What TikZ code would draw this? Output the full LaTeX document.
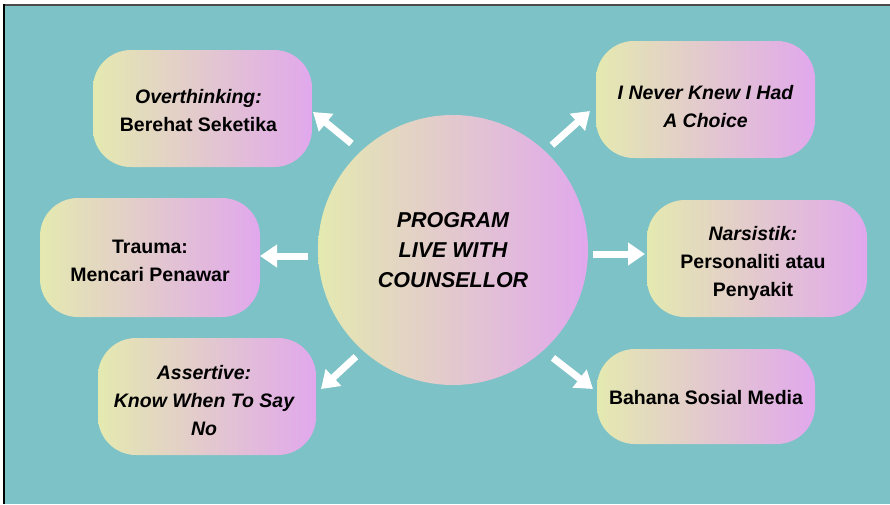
\documentclass[tikz,border=0pt]{standalone}
\usepackage{fontspec}
\setmainfont{Liberation Sans}
\usetikzlibrary{arrows.meta}
\definecolor{bg}{HTML}{7CC2C6}
\definecolor{gl}{HTML}{E4E9B0}
\definecolor{gr}{HTML}{E1A8EC}
\definecolor{topline}{HTML}{4A4A4A}
\begin{document}
\begin{tikzpicture}[x=1pt,y=-1pt,
  pill/.style={rounded corners=38pt, left color=gl, right color=gr, inner sep=0pt},
  txt/.style={align=center, inner sep=0pt, font=\fontsize{19.5}{28}\selectfont\bfseries},
  hub/.style={circle, minimum size=270pt, inner sep=0pt, left color=gl, right color=gr,
    align=center, font=\fontsize{21.5}{30}\selectfont\bfseries\itshape},
  arr/.style={white, line width=7pt, -{Triangle[length=17pt,width=22pt]}}]
\useasboundingbox (0,0) rectangle (890,504);
\fill[white] (0,0) rectangle (890,504);
\fill[bg] (4,5) rectangle (890,504);
\draw[topline, line width=2pt] (3,5) -- (890,5);
\draw[black, line width=2pt] (4,4) -- (4,504);

\node[hub] (c) at (453,250) {PROGRAM\\LIVE WITH\\COUNSELLOR};

\node[pill, minimum width=219pt, minimum height=117pt] (ov) at (202.5,108.5) {};
\node[txt] (ovt) at ([xshift=-4pt,yshift=-2.5pt]ov.center) {{\itshape Overthinking:}\\Berehat Seketika};

\node[pill, minimum width=219pt, minimum height=117pt] (nk) at (705.5,99.5) {};
\node[txt] (nkt) at ([yshift=-7pt]nk.center) {\itshape I Never Knew I Had\\\itshape A Choice};

\node[pill, minimum width=220pt, minimum height=119pt] (tr) at (150,257.5) {};
\node[txt] (trt) at ([yshift=-3.5pt]tr.center) {Trauma:\\Mencari Penawar};

\node[pill, minimum width=220pt, minimum height=117pt] (na) at (757,258.5) {};
\node[txt] (nat) at ([xshift=-4pt,yshift=-5pt]na.center) {{\itshape Narsistik:}\\Personaliti atau\\Penyakit};

\node[pill, minimum width=218pt, minimum height=117pt] (as) at (207,396.5) {};
\node[txt] (ast) at ([xshift=-3pt,yshift=-4pt]as.center) {\itshape Assertive:\\\itshape Know When To Say\\\itshape No};

\node[pill, minimum width=218pt, minimum height=95pt] (bs) at (706,396.5) {};
\node[txt] (bst) at ([yshift=-1pt]bs.center) {Bahana Sosial Media};

\coordinate (t1) at (313,112);
\coordinate (t2) at (260,256);
\coordinate (t3) at (645,254);
\coordinate (t4) at (590,111);
\coordinate (t5) at (321,389);
\coordinate (t6) at (593,389);

\draw[arr, shorten <=12pt] (c.133.3) -- (t1);
\draw[arr, shorten <=10pt] (c.west |- t2) -- (t2);
\draw[arr, shorten <=5pt] (c.east |- t3) -- (t3);
\draw[arr, shorten <=9pt] (c.47.2) -- (t4);
\draw[arr, shorten <=9pt] (c.228.7) -- (t5);
\draw[arr, shorten <=12pt] (c.312.8) -- (t6);
\end{tikzpicture}
\end{document}
